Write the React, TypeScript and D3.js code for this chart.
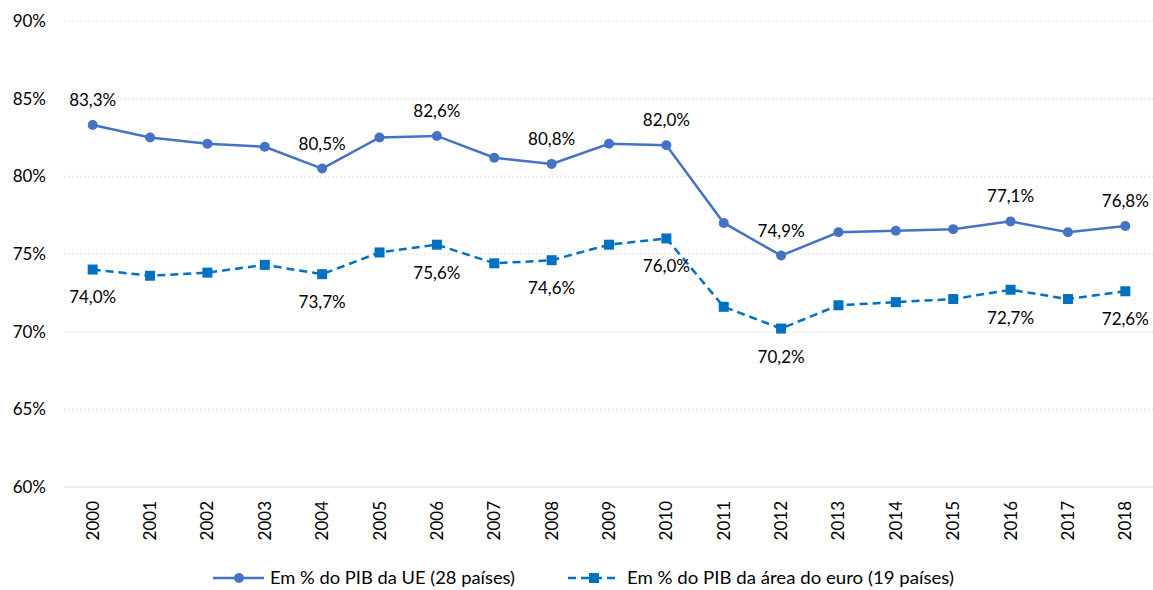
import React from "react";
import * as d3 from "d3";

const years = ["2000","2001","2002","2003","2004","2005","2006","2007","2008","2009","2010","2011","2012","2013","2014","2015","2016","2017","2018"];
const ueValues = [83.3,82.5,82.1,81.9,80.5,82.5,82.6,81.2,80.8,82.1,82.0,77.0,74.9,76.4,76.5,76.6,77.1,76.4,76.8];
const euroValues = [74.0,73.6,73.8,74.3,73.7,75.1,75.6,74.4,74.6,75.6,76.0,71.6,70.2,71.7,71.9,72.1,72.7,72.1,72.6];
const labeledYears = ["2000","2004","2006","2008","2010","2012","2016","2018"];
const yTicks = [60,65,70,75,80,85,90];
const seriesNames = ["Em % do PIB da UE (28 países)", "Em % do PIB da área do euro (19 países)"];

const W = 1153, H = 590;
const FONT = "Lato, 'Noto Sans', sans-serif";

export default function App() {
  const x = d3.scaleBand<string>().domain(years).range([64, 1154]);
  const y = d3.scaleLinear().domain([60, 90]).range([487, 21]);
  const cx = (yr: string) => (x(yr) as number) + x.bandwidth() / 2;
  const line = d3.line<number>().x((_, i) => cx(years[i])).y((v) => y(v));
  const fmt = (v: number) => v.toFixed(1).replace(".", ",") + "%";
  const c1 = "#4472C4", c2 = "#0070C0";

  return (
    <svg width={W} height={H} style={{ position: "absolute", left: 0, top: 0, background: "#fff" }} fontFamily={FONT}>
      {yTicks.map((t) => (
        <g key={t}>
          <line x1={64} x2={1153} y1={y(t)} y2={y(t)} stroke="#D9D9D9" strokeWidth={1}
            strokeDasharray={t === 60 ? undefined : "1.5 2.5"} />
          <text x={46} y={y(t)} dy="0.35em" textAnchor="end" fontSize={17} fill="#000">{t}%</text>
        </g>
      ))}
      {years.map((yr) => (
        <text key={yr} transform={`translate(${cx(yr) + 6},501) rotate(-90)`} textAnchor="end" fontSize={17} fill="#000">{yr}</text>
      ))}
      <path d={line(ueValues) as string} fill="none" stroke={c1} strokeWidth={2.5} />
      <path d={line(euroValues) as string} fill="none" stroke={c2} strokeWidth={2.5} strokeDasharray="8 5" />
      {ueValues.map((v, i) => (
        <circle key={"u" + i} cx={cx(years[i])} cy={y(v)} r={5} fill={c1} />
      ))}
      {euroValues.map((v, i) => (
        <rect key={"e" + i} x={cx(years[i]) - 5} y={y(v) - 5} width={10} height={10} fill={c2} />
      ))}
      {years.map((yr, i) => labeledYears.includes(yr) ? (
        <g key={"l" + yr}>
          <text x={cx(yr)} y={y(ueValues[i]) - 25} dy="0.35em" textAnchor="middle" fontSize={17} fill="#000">{fmt(ueValues[i])}</text>
          <text x={cx(yr)} y={y(euroValues[i]) + 28} dy="0.35em" textAnchor="middle" fontSize={17} fill="#000">{fmt(euroValues[i])}</text>
        </g>
      ) : null)}
      <g>
        <line x1={213} x2={264} y1={578} y2={578} stroke={c1} strokeWidth={2.5} />
        <circle cx={239} cy={578} r={5} fill={c1} />
        <text x={270} y={578} dy="0.35em" fontSize={17} fill="#000" textLength={245} lengthAdjust="spacingAndGlyphs">{seriesNames[0]}</text>
        <line x1={568} x2={620} y1={578} y2={578} stroke={c2} strokeWidth={2.5} strokeDasharray="8 5" />
        <rect x={589} y={573} width={10} height={10} fill={c2} />
        <text x={627} y={578} dy="0.35em" fontSize={17} fill="#000" textLength={327} lengthAdjust="spacingAndGlyphs">{seriesNames[1]}</text>
      </g>
    </svg>
  );
}
